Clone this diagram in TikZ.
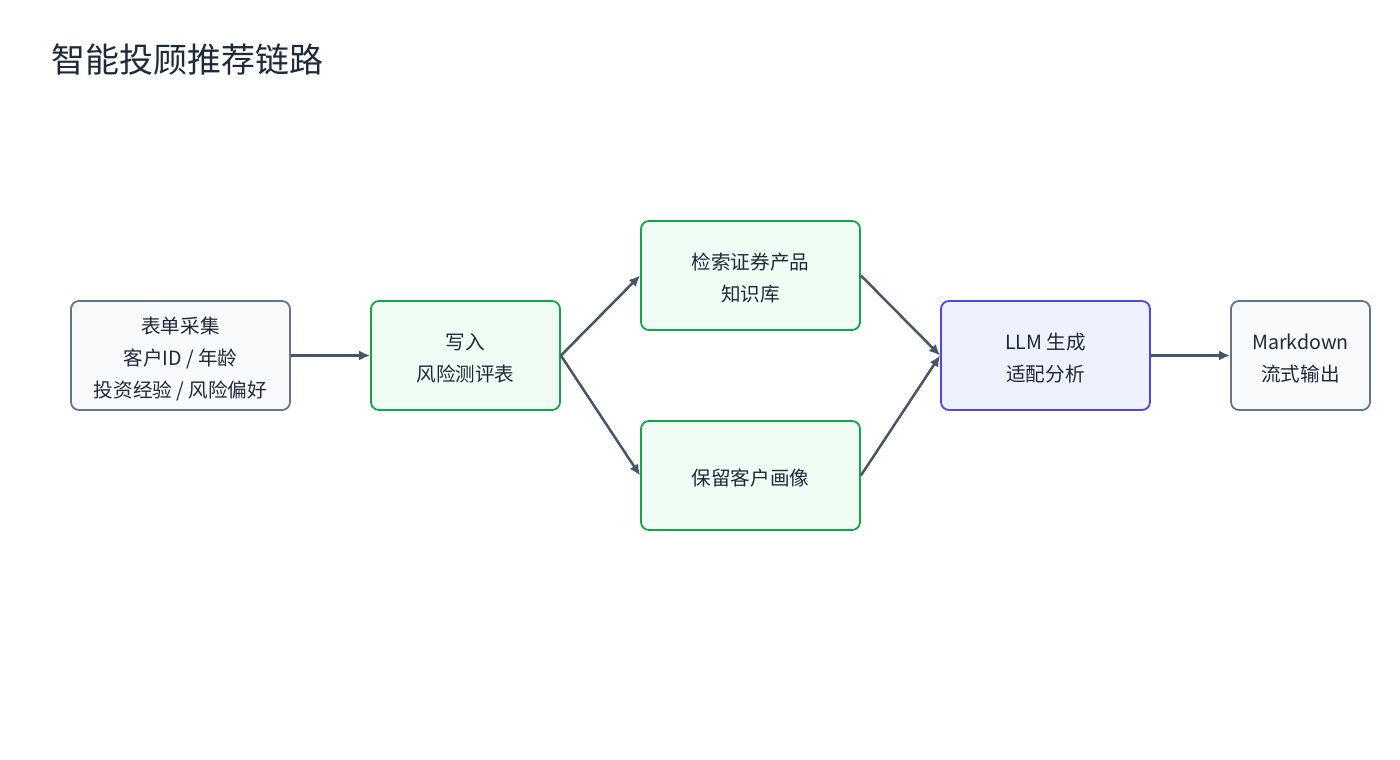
\documentclass[tikz,border=0pt]{standalone}
\usepackage{fontspec}
\setmainfont{Noto Sans CJK SC}
\usepackage{tikz}
\usetikzlibrary{arrows.meta,positioning}
\definecolor{edgecol}{HTML}{475569}
\definecolor{inkcol}{HTML}{1E293B}
\definecolor{slateln}{HTML}{64748B}
\definecolor{slatebg}{HTML}{F8FAFC}
\definecolor{greenln}{HTML}{16A34A}
\definecolor{greenbg}{HTML}{F0FDF4}
\definecolor{indigoln}{HTML}{4F46E5}
\definecolor{indigobg}{HTML}{EEF2FF}
\tikzset{
  blk/.style={rectangle, rounded corners=8pt, line width=1.8pt, minimum height=109pt,
              align=center, text=inkcol, font=\fontsize{19.6}{32}\selectfont},
  grey/.style={blk, draw=slateln, fill=slatebg},
  grn/.style={blk, draw=greenln, fill=greenbg},
  llm/.style={blk, draw=indigoln, fill=indigobg},
  ar/.style={-{Latex[length=11pt,width=10pt]}, line width=2.5pt, draw=edgecol},
}

\begin{document}
\begin{tikzpicture}[x=1pt,y=-1pt]
\useasboundingbox[fill=white] (0,0) rectangle (1400,760);
\node[anchor=west, text=inkcol, font=\fontsize{34}{40}\selectfont] (title) at (48,60) {智能投顾推荐链路};
\foreach \p/\x/\y/\w/\st/\txt in {
 form/180.5/355.5/219/grey/{表单采集\\客户ID / 年龄\\投资经验 / 风险偏好},
 save/465.5/355.5/189/grn/{写入\\风险测评表},
 kb/750.5/275.5/219/grn/{检索证券产品\\知识库},
 keep/750.5/475.5/219/grn/{保留客户画像},
 gen/1045.5/355.5/209/llm/{LLM 生成\\适配分析},
 out/1300.5/355.5/139/grey/{Markdown\\流式输出}} {
  \node[\st, minimum width=\w pt] (\p) at (\x,\y)
    {\raisebox{-4pt}[\height][\depth]{\begin{tabular}{@{}c@{}}\txt\end{tabular}}};
}
\foreach \a/\b in {form/save, save/kb, save/keep, kb/gen, keep/gen, gen/out}
  \draw[ar] (\a.east) -- (\b.west);
\end{tikzpicture}
\end{document}
